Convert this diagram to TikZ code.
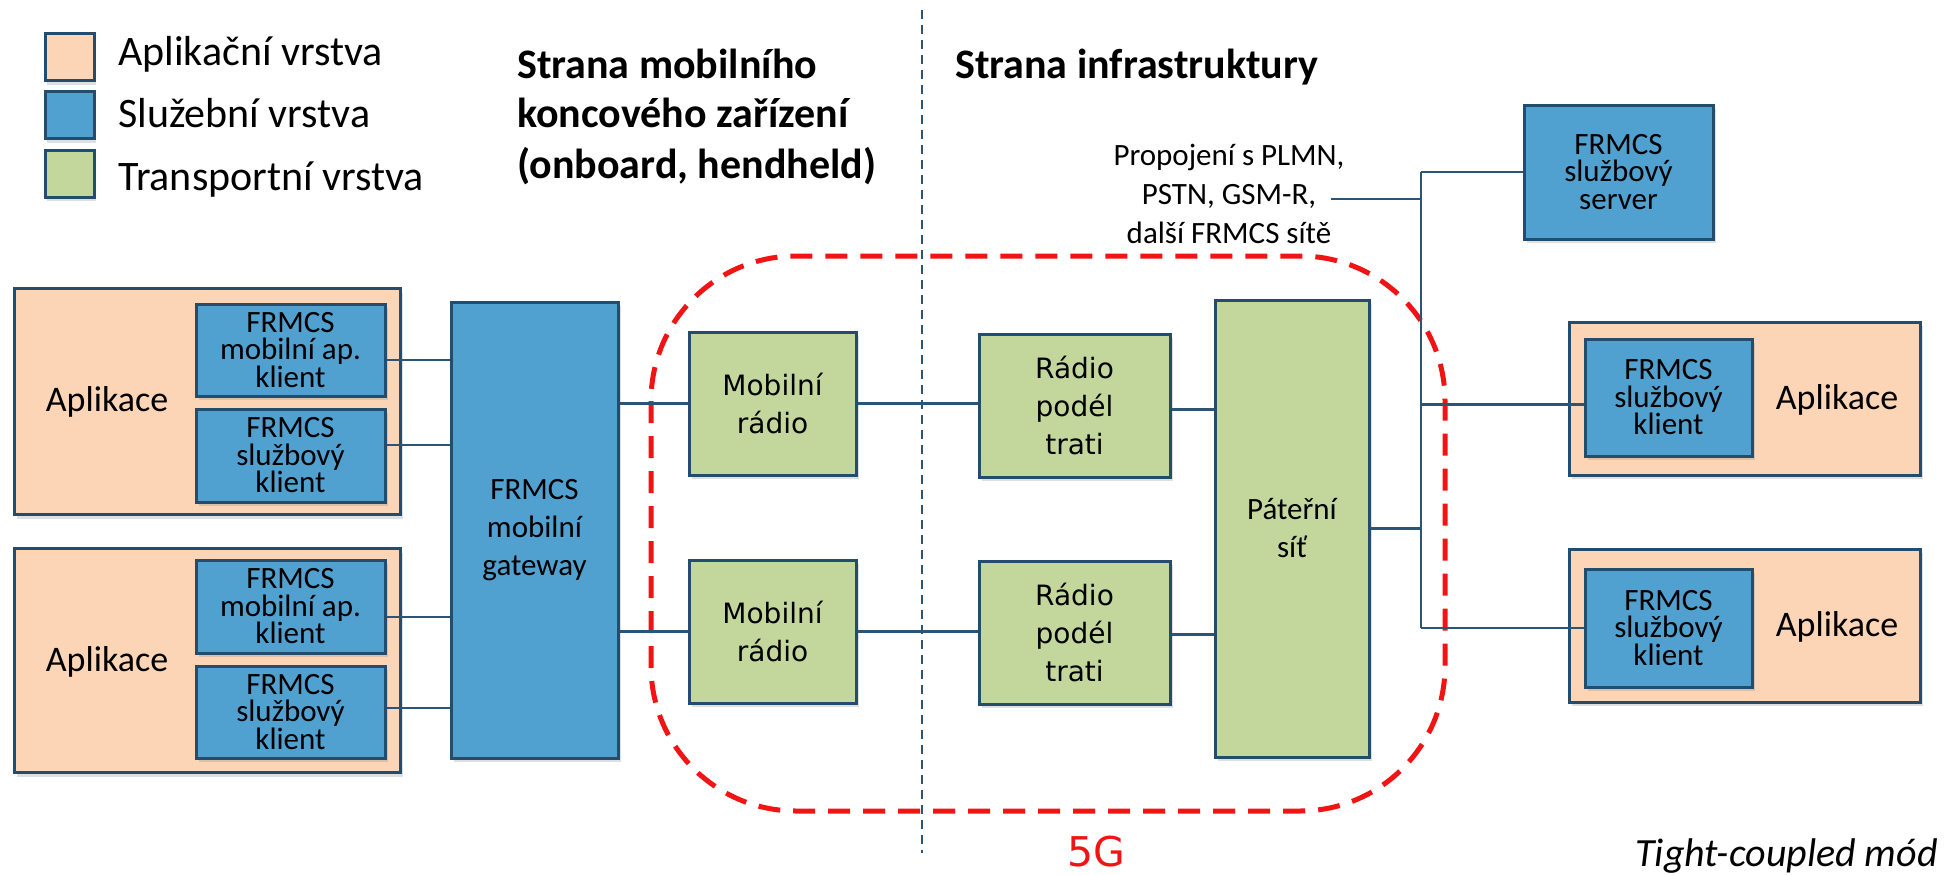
\documentclass[tikz,border=0pt]{standalone}
\usepackage{fontspec}
\setmainfont{Carlito}
\newfontfamily\verd{DejaVu Sans}
\usetikzlibrary{shadows}
\definecolor{appfill}{RGB}{251,213,181}
\definecolor{srvfill}{RGB}{80,160,208}
\definecolor{trfill}{RGB}{195,214,155}
\definecolor{edge}{RGB}{36,76,108}
\definecolor{wire}{RGB}{44,84,116}
\definecolor{fiveg}{RGB}{240,20,20}
\tikzset{
  boxbase/.style={draw=edge, line width=3pt, inner sep=0pt, align=center,
    drop shadow={opacity=0.25, shadow xshift=3pt, shadow yshift=-4pt}},
  appbox/.style={boxbase, fill=appfill},
  srvbox/.style={boxbase, fill=srvfill, font=\fontsize{31}{27.5}\selectfont},
  gwbox/.style={boxbase, fill=srvfill, font=\fontsize{31}{38}\selectfont},
  trbox/.style={boxbase, fill=trfill, font=\verd\fontsize{28}{38}\selectfont},
  patbox/.style={boxbase, fill=trfill, font=\fontsize{31}{38}\selectfont},
  legbox/.style={draw=edge, line width=3pt, inner sep=0pt, minimum width=49pt, minimum height=47pt,
    drop shadow={opacity=0.25, shadow xshift=2pt, shadow yshift=-4pt}},
  legtext/.style={anchor=base west, inner sep=0pt, font=\fontsize{42}{50}\selectfont},
  titletext/.style={anchor=base west, inner sep=0pt, font=\bfseries\fontsize{42}{50}\selectfont},
  wireline/.style={draw=wire, line width=2.5pt},
  apptext/.style={inner sep=0pt, font=\fontsize{36}{40}\selectfont},
}
\begin{document}
\begin{tikzpicture}[x=1pt,y=-1pt]
\useasboundingbox (0,0) rectangle (1955,875);

% legend
\node[legbox, fill=appfill] (lg1) at (69.5,57.5) {};
\node[legbox, fill=srvfill] (lg2) at (69.5,115) {};
\node[legbox, fill=trfill] (lg3) at (69.5,173.5) {};
\node[legtext] (lt1) at (118,66) {Aplikační vrstva};
\node[legtext] (lt2) at (118,128) {Služební vrstva};
\node[legtext] (lt3) at (118,190) {Transportní vrstva};

% titles
\node[titletext] (t1) at (517,78) {Strana mobilního};
\node[titletext] (t2) at (517,128) {koncového zařízení};
\node[titletext] (t3) at (517,178) {(onboard, hendheld)};
\node[titletext] (t4) at (955,78) {Strana infrastruktury};

% dividing line
\coordinate (dtop) at (922,10);
\coordinate (dbot) at (922,853);
\draw[draw=wire, line width=2pt, dash pattern=on 9pt off 6pt] (dtop) -- (dbot);

% 5G region
\draw[draw=fiveg, line width=5pt, dash pattern=on 22pt off 13pt, rounded corners=145pt]
  (651,256) rectangle (1445,811);
\node[text=fiveg, font=\verd\fontsize{41}{45}\selectfont, inner sep=0pt] (g5) at (1096,852) {5G};

% left application boxes
\node[appbox, minimum width=386pt, minimum height=226pt] (appL1) at (207,401.5) {};
\node[appbox, minimum width=386pt, minimum height=224pt] (appL2) at (207,660.5) {};
\node[apptext] (aptL1) at (107,402) {Aplikace};
\node[apptext] (aptL2) at (107,662) {Aplikace};
\node[srvbox, minimum width=189pt, minimum height=92pt] (mapc1) at (290.5,350) {FRMCS\\mobilní ap.\\klient};
\node[srvbox, minimum width=189pt, minimum height=93pt] (skl1) at (290.5,455.5) {FRMCS\\službový\\klient};
\node[srvbox, minimum width=189pt, minimum height=93pt] (mapc2) at (290.5,606.5) {FRMCS\\mobilní ap.\\klient};
\node[srvbox, minimum width=189pt, minimum height=92pt] (skl2) at (290.5,712) {FRMCS\\službový\\klient};

% gateway
\node[gwbox, minimum width=167pt, minimum height=456pt] (gw) at (534.5,530) {FRMCS\\mobilní\\gateway};

% radios
\node[trbox, minimum width=167pt, minimum height=143pt] (mr1) at (772.5,403.5) {Mobilní\\rádio};
\node[trbox, minimum width=167pt, minimum height=143pt] (mr2) at (772.5,631.5) {Mobilní\\rádio};
\node[trbox, minimum width=191pt, minimum height=143pt] (rpt1) at (1074.5,405.5) {Rádio\\podél\\trati};
\node[trbox, minimum width=191pt, minimum height=143pt] (rpt2) at (1074.5,632.5) {Rádio\\podél\\trati};

% core
\node[patbox, minimum width=154pt, minimum height=457pt] (pat) at (1292,528.5) {Páteřní\\síť};

% server
\node[srvbox, minimum width=189pt, minimum height=134pt] (srv) at (1618.5,172) {FRMCS\\službový\\server};

% right application boxes
\node[appbox, minimum width=351pt, minimum height=153pt] (appR1) at (1744.5,398.5) {};
\node[appbox, minimum width=351pt, minimum height=153pt] (appR2) at (1744.5,625.5) {};
\node[srvbox, minimum width=167pt, minimum height=117pt] (sklR1) at (1668.5,397.5) {FRMCS\\službový\\klient};
\node[srvbox, minimum width=167pt, minimum height=118pt] (sklR2) at (1668.5,628) {FRMCS\\službový\\klient};
\node[apptext] (aptR1) at (1837,400) {Aplikace};
\node[apptext] (aptR2) at (1837,627) {Aplikace};

% interconnection text
\node[align=center, inner sep=0pt, font=\fontsize{31}{39}\selectfont] (plmn) at (1229,194) {Propojení s PLMN,\\PSTN, GSM-R,\\další FRMCS sítě};

% connectors left
\draw[wireline] ([yshift=-10pt]mapc1.east) -- ([yshift=-10pt]mapc1.east -| gw.west);
\draw[wireline] ([yshift=10.5pt]skl1.east) -- ([yshift=10.5pt]skl1.east -| gw.west);
\draw[wireline] ([yshift=-10.5pt]mapc2.east) -- ([yshift=-10.5pt]mapc2.east -| gw.west);
\draw[wireline] ([yshift=4pt]skl2.east) -- ([yshift=4pt]skl2.east -| gw.west);

% gateway to radios
\draw[wireline] (mr1.west -| gw.east) -- (mr1.west);
\draw[wireline] (mr2.west -| gw.east) -- (mr2.west);
\draw[wireline] (mr1.east) -- (mr1.east -| rpt1.west);
\draw[wireline] (mr2.east) -- (mr2.east -| rpt2.west);
\draw[wireline] ([yshift=-4pt]rpt1.east) -- ([yshift=-4pt]rpt1.east -| pat.west);
\draw[wireline] ([yshift=-2pt]rpt2.east) -- ([yshift=-2pt]rpt2.east -| pat.west);

% bus on the right
\coordinate (bustop) at (1421,172);
\coordinate (busbot) at (1421,628);
\coordinate (plmnend) at (1331,199);
\draw[wireline] (bustop) -- (busbot);
\draw[wireline] (bustop) -- (srv.west);
\draw[wireline] (plmnend) -- (plmnend -| bustop);
\draw[wireline] (pat.east) -- (pat.east -| bustop);
\draw[wireline] ([yshift=-7pt]sklR1.west -| bustop) -- ([yshift=-7pt]sklR1.west);
\draw[wireline] (busbot) -- (busbot -| sklR2.west);

% mode label
\node[anchor=base east, inner sep=0pt, font=\itshape\fontsize{40}{44}\selectfont] (mode) at (1938,866) {Tight-coupled mód};
\end{tikzpicture}
\end{document}
